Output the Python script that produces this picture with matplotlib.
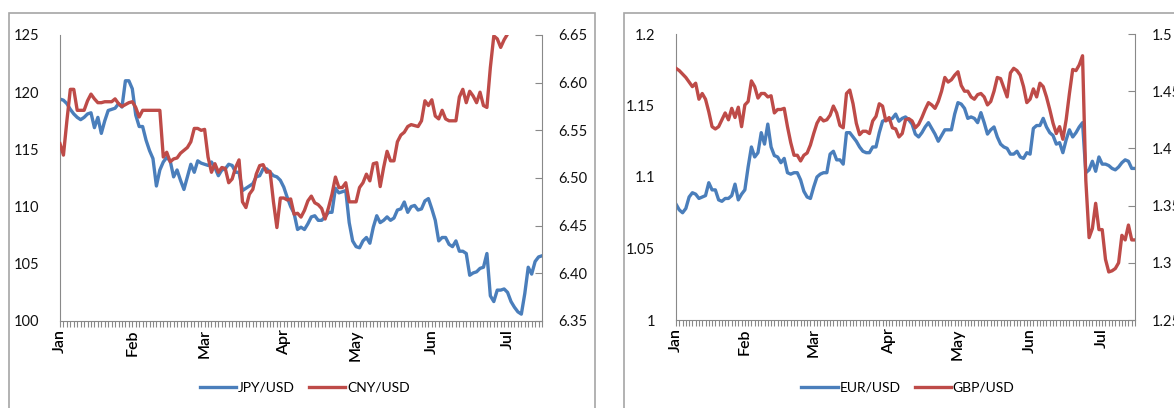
"""Recreate the two-panel 2016 FX chart (JPY/CNY and EUR/GBP vs USD)."""

import matplotlib
matplotlib.use("Agg")
import matplotlib.pyplot as plt
import numpy as np
import pandas as pd
from matplotlib.patches import Rectangle

# Business days from 1 Jan 2016 to mid July 2016
dates = pd.bdate_range("2016-01-01", periods=141)
month_names = ["Jan", "Feb", "Mar", "Apr", "May", "Jun", "Jul"]

jpy_usd = [
    119.4, 119.3, 119.0, 118.5, 118.1, 117.8, 117.6, 117.8, 118.1, 118.2,
    116.9, 117.8, 116.4, 117.5, 118.4, 118.5, 118.6, 119.0, 118.7, 121.0,
    121.0, 120.3, 118.0, 117.0, 117.0, 115.8, 114.9, 114.2, 111.8, 113.2,
    113.9, 114.3, 114.0, 112.6, 113.2, 112.3, 111.5, 112.6, 113.7, 113.0,
    114.0, 113.8, 113.7, 113.6, 113.9, 113.4, 112.7, 113.2, 113.3, 113.7,
    113.6, 113.0, 113.0, 111.4, 111.6, 111.8, 112.0, 112.6, 112.7, 113.3,
    113.3, 113.0, 112.7, 112.6, 112.3, 111.7, 110.8, 110.0, 109.4, 108.0,
    108.2, 108.0, 108.5, 109.1, 109.2, 108.8, 108.8, 109.1, 109.5, 109.5,
    111.6, 111.2, 111.3, 111.4, 108.6, 107.0, 106.5, 106.4, 107.0, 107.3,
    106.8, 108.2, 109.2, 108.6, 108.8, 109.1, 108.8, 109.0, 109.7, 109.8,
    110.4, 109.5, 110.0, 110.1, 109.7, 109.8, 110.5, 110.7, 109.8, 108.8,
    107.0, 107.3, 107.3, 106.7, 106.5, 107.0, 106.1, 106.1, 105.9, 104.0,
    104.2, 104.3, 104.6, 104.7, 105.9, 102.2, 101.7, 102.7, 102.7, 102.8,
    102.5, 101.7, 101.2, 100.8, 100.6, 102.4, 104.7, 104.1, 105.2, 105.6, 105.7,
]

cny_usd = [
    6.536, 6.524, 6.560, 6.593, 6.593, 6.571, 6.571, 6.571, 6.581, 6.588,
    6.583, 6.579, 6.579, 6.580, 6.580, 6.580, 6.583, 6.578, 6.575, 6.577,
    6.579, 6.580, 6.574, 6.564, 6.571, 6.571, 6.571, 6.571, 6.571, 6.571,
    6.522, 6.527, 6.517, 6.520, 6.521, 6.526, 6.529, 6.532, 6.538, 6.552,
    6.552, 6.550, 6.551, 6.522, 6.506, 6.515, 6.506, 6.511, 6.510, 6.495,
    6.499, 6.511, 6.519, 6.475, 6.469, 6.483, 6.488, 6.504, 6.513, 6.514,
    6.506, 6.507, 6.475, 6.448, 6.479, 6.479, 6.477, 6.478, 6.462, 6.463,
    6.459, 6.466, 6.476, 6.481, 6.474, 6.472, 6.468, 6.457, 6.469, 6.483,
    6.501, 6.490, 6.490, 6.495, 6.475, 6.475, 6.475, 6.490, 6.495, 6.504,
    6.497, 6.515, 6.516, 6.491, 6.511, 6.528, 6.518, 6.518, 6.538, 6.545,
    6.548, 6.554, 6.556, 6.555, 6.554, 6.560, 6.581, 6.576, 6.582, 6.565,
    6.562, 6.571, 6.562, 6.560, 6.560, 6.560, 6.585, 6.593, 6.579, 6.591,
    6.586, 6.579, 6.590, 6.576, 6.574, 6.616, 6.649, 6.646, 6.637, 6.645, 6.651,
]

eur_usd = [
    1.081, 1.077, 1.075, 1.078, 1.086, 1.089, 1.088, 1.085, 1.086, 1.087,
    1.096, 1.091, 1.091, 1.084, 1.083, 1.085, 1.085, 1.087, 1.095, 1.084,
    1.088, 1.091, 1.107, 1.121, 1.114, 1.117, 1.131, 1.123, 1.137, 1.121,
    1.115, 1.114, 1.110, 1.113, 1.103, 1.102, 1.103, 1.103, 1.098, 1.090,
    1.086, 1.085, 1.093, 1.100, 1.102, 1.103, 1.103, 1.116, 1.118, 1.112,
    1.112, 1.109, 1.131, 1.131, 1.128, 1.125, 1.121, 1.118, 1.117, 1.117,
    1.121, 1.121, 1.131, 1.139, 1.140, 1.140, 1.141, 1.144, 1.139, 1.141,
    1.142, 1.140, 1.137, 1.130, 1.128, 1.131, 1.135, 1.138, 1.134, 1.130,
    1.125, 1.129, 1.133, 1.133, 1.133, 1.144, 1.152, 1.151, 1.148, 1.141,
    1.142, 1.141, 1.138, 1.145, 1.138, 1.130, 1.133, 1.135, 1.128, 1.123,
    1.121, 1.120, 1.116, 1.116, 1.118, 1.114, 1.113, 1.117, 1.116, 1.134,
    1.136, 1.136, 1.141, 1.135, 1.131, 1.129, 1.123, 1.124, 1.117, 1.126,
    1.133, 1.128, 1.131, 1.135, 1.138, 1.103, 1.105, 1.111, 1.104, 1.114,
    1.109, 1.109, 1.108, 1.106, 1.105, 1.107, 1.110, 1.112, 1.111, 1.106, 1.106,
]

gbp_usd = [
    1.470, 1.468, 1.465, 1.462, 1.458, 1.454, 1.457, 1.443, 1.448, 1.443,
    1.432, 1.419, 1.417, 1.419, 1.425, 1.431, 1.425, 1.435, 1.427, 1.436,
    1.419, 1.438, 1.441, 1.459, 1.454, 1.444, 1.448, 1.448, 1.445, 1.446,
    1.431, 1.434, 1.434, 1.435, 1.419, 1.405, 1.394, 1.394, 1.389, 1.394,
    1.396, 1.403, 1.413, 1.422, 1.427, 1.424, 1.425, 1.429, 1.437, 1.431,
    1.420, 1.418, 1.448, 1.451, 1.439, 1.422, 1.412, 1.415, 1.415, 1.413,
    1.424, 1.428, 1.439, 1.437, 1.424, 1.427, 1.418, 1.417, 1.410, 1.413,
    1.425, 1.426, 1.424, 1.418, 1.421, 1.427, 1.434, 1.440, 1.438, 1.435,
    1.441, 1.450, 1.462, 1.458, 1.460, 1.464, 1.467, 1.455, 1.450, 1.450,
    1.445, 1.443, 1.447, 1.448, 1.445, 1.438, 1.441, 1.450, 1.462, 1.461,
    1.453, 1.445, 1.466, 1.470, 1.468, 1.464, 1.454, 1.440, 1.443, 1.452,
    1.445, 1.457, 1.454, 1.445, 1.434, 1.422, 1.413, 1.419, 1.408, 1.425,
    1.448, 1.469, 1.468, 1.473, 1.481, 1.372, 1.322, 1.330, 1.352, 1.329,
    1.329, 1.303, 1.292, 1.293, 1.295, 1.300, 1.324, 1.320, 1.333, 1.320, 1.320,
]

jpy_ticks = [100, 105, 110, 115, 120, 125]
cny_ticks = [6.35, 6.40, 6.45, 6.50, 6.55, 6.60, 6.65]
eur_ticks = [1.0, 1.05, 1.1, 1.15, 1.2]
eur_tick_labels = ["1", "1.05", "1.1", "1.15", "1.2"]
gbp_ticks = [1.25, 1.3, 1.35, 1.4, 1.45, 1.5]
gbp_tick_labels = ["1.25", "1.3", "1.35", "1.4", "1.45", "1.5"]

W, H = 1174, 408
BLUE = "#4a7ebb"
RED = "#be4b48"
GRID_GREY = "#898989"
FONT = "Lato"


def _px(x, y, w, h):
    """Pixel box (top-left origin) to figure fraction rect."""
    return [x / W, (H - y - h) / H, w / W, h / H]


def _style_pair(ax, ax2, x):
    """Excel-like look for a primary/secondary axis pair."""
    ax.spines["top"].set_visible(False)
    ax.spines["right"].set_visible(False)
    ax2.spines["top"].set_visible(False)
    ax2.spines["left"].set_visible(False)
    for sp in ("left", "bottom"):
        ax.spines[sp].set_color(GRID_GREY)
    ax2.spines["right"].set_color(GRID_GREY)
    ax2.spines["bottom"].set_visible(False)

    ax.set_xlim(x[0], x[-1])

    # month labels on first business day, small tick on every day
    month_idx = [0] + [i for i in range(1, len(dates)) if dates[i].month != dates[i - 1].month]
    labels = [""] * len(x)
    for k, i in enumerate(month_idx):
        labels[i] = month_names[k]
    ax.set_xticks(x)
    ax.set_xticklabels(labels, rotation=90, fontsize=11.5, family=FONT,
                       fontweight="semibold", color="#000000")
    ax.tick_params(axis="x", direction="out", length=4, width=0.8, color=GRID_GREY, pad=2)
    ax.tick_params(axis="y", length=0, pad=15, labelsize=10.5, labelcolor="#111111")
    ax2.tick_params(axis="y", direction="in", length=5, width=0.8, color=GRID_GREY,
                    pad=12, labelsize=10.5, labelcolor="#111111")
    for lab in ax.get_yticklabels() + ax2.get_yticklabels():
        lab.set_family(FONT)


def _panel(fig, rect, border, left_vals, right_vals, left_name, right_name,
           left_ticks, left_labels, left_lim, right_ticks, right_labels, right_lim, legend_x):
    fig.patches.append(Rectangle((border[0] / W, -0.1), (border[1] - border[0]) / W,
                                 1.1 - 13 / H, transform=fig.transFigure, fill=False,
                                 edgecolor="#a6a6a6", linewidth=1.2))
    ax = fig.add_axes(rect)
    ax2 = ax.twinx()
    x = np.arange(len(dates))
    l1, = ax.plot(x[:len(left_vals)], left_vals, color=BLUE, lw=2.4, label=left_name)
    l2, = ax2.plot(x[:len(right_vals)], right_vals, color=RED, lw=2.4, label=right_name)
    ax.set_ylim(*left_lim)
    ax2.set_ylim(*right_lim)
    ax.set_yticks(left_ticks)
    ax.set_yticklabels(left_labels)
    ax2.set_yticks(right_ticks)
    ax2.set_yticklabels(right_labels)
    _style_pair(ax, ax2, x)
    fig.legend(handles=[l1, l2], loc="center", bbox_to_anchor=(legend_x / W, 20 / H),
               ncol=2, frameon=False, handlelength=2.6, handletextpad=0.15,
               columnspacing=1.0, prop={"family": FONT, "size": 10})


def main() -> None:
    fig = plt.figure(figsize=(W / 100, H / 100), dpi=100)

    _panel(fig, _px(60, 35, 482, 286), (9, 595), jpy_usd, cny_usd, "JPY/USD", "CNY/USD",
           jpy_ticks, [str(t) for t in jpy_ticks], (100, 125),
           cny_ticks, [f"{t:.2f}" for t in cny_ticks], (6.35, 6.65), 305)

    _panel(fig, _px(676, 34, 459, 286), (624, 1300), eur_usd, gbp_usd, "EUR/USD", "GBP/USD",
           eur_ticks, eur_tick_labels, (1.0, 1.2),
           gbp_ticks, gbp_tick_labels, (1.25, 1.5), 908)

    fig.savefig("out.png", dpi=100)
    plt.close(fig)


if __name__ == "__main__":
    main()
